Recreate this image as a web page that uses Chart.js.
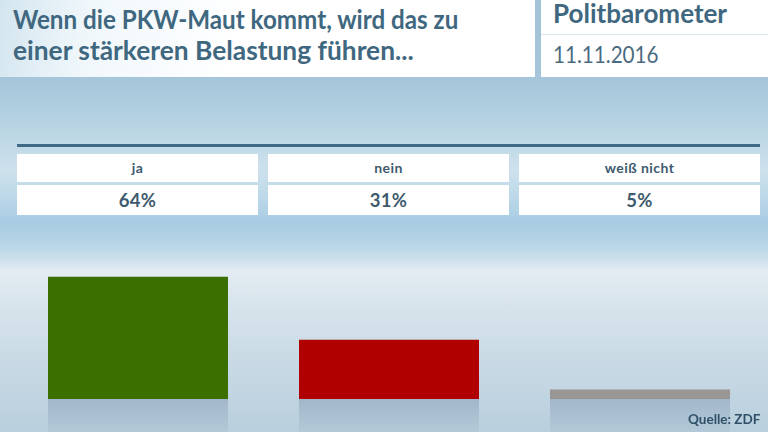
<!DOCTYPE html>
<html><head><meta charset="utf-8">
<style>
html,body{margin:0;padding:0;width:768px;height:432px;overflow:hidden}
#stage{position:relative;width:768px;height:432px;overflow:hidden;font-family:Lato,sans-serif;
background:linear-gradient(180deg,#a2c3d6 0px,#a5c6da 78px,#b0cfe0 110px,#bfd8e6 140px,#cde1ec 170px,#bcd8e9 198px,#a8cce3 222px,#b8d5e6 245px,#d2e3ed 262px,#e3ecf2 272px,#d9e5ed 300px,#c9dae5 360px,#b9cfdd 432px)}
.box{position:absolute;background:#fff}
.t{position:absolute;white-space:nowrap;color:#3f6880;transform-origin:left top}
.c{position:absolute;text-align:center;color:#3e5a6e;font-weight:700;background:#fff}
.c span{display:inline-block;transform-origin:center}
#c{position:absolute;left:0;top:0}
</style></head><body>
<div id="stage">
<div class="box" style="left:0;top:0;width:535px;height:77px;background:linear-gradient(100deg,#d3e5ef 0,#f0f7fb 90px,#fff 240px)"></div>
<div class="box" style="left:541px;top:0;width:227px;height:77px"></div>
<div class="box" style="left:541px;top:34px;width:227px;height:1px;background:#dbe8f0"></div>
<div class="t" id="t1" style="left:13px;top:3px;font-size:27px;font-weight:700;line-height:31px;transform:scaleX(.896)"></div>
<div class="t" id="t2" style="left:13px;top:34px;font-size:27px;font-weight:700;line-height:31px;transform:scaleX(.975)"></div>
<div class="t" id="t3" style="left:553px;top:-2px;font-size:26px;font-weight:700;line-height:30px"></div>
<div class="t" id="t4" style="left:553px;top:39px;font-size:24px;line-height:30px;color:#4a6a80;transform:scaleX(.86)"></div>
<div class="box" style="left:17px;top:144px;width:743px;height:3px;background:#3f6a85"></div>
<div id="cells"></div>
<canvas id="c" width="768" height="432" style="width:768px;height:432px"></canvas>
<div class="t" id="src" style="left:688px;top:411px;font-size:13.5px;font-weight:700;line-height:17px;color:#2f5068"></div>
</div>
<script src="https://cdn.jsdelivr.net/npm/chart.js@4/dist/chart.umd.min.js"></script>
<script>
const titleLines=["Wenn die PKW-Maut kommt, wird das zu","einer stärkeren Belastung führen..."];
const brand="Politbarometer";
const dateLabel="11.11.2016";
const source="Quelle: ZDF";
const categories=["ja","nein","weiß nicht"];
const values=[64,31,5];
const colors=["#3b7000","#b00000","#999694"];

t1.textContent=titleLines[0];t2.textContent=titleLines[1];t3.textContent=brand;t4.textContent=dateLabel;src.textContent=source;
const cellLeft=[17,268,519];
categories.forEach((n,i)=>{
  const a=document.createElement('div');a.className='c';a.textContent=n;
  a.style.cssText=`left:${cellLeft[i]}px;top:154px;width:241px;height:28px;line-height:27px;font-size:14px;letter-spacing:.45px`;
  const b=document.createElement('div');b.className='c';b.textContent=values[i]+'%';
  b.style.cssText=`left:${cellLeft[i]}px;top:185px;width:241px;height:30px;line-height:31px;font-size:18.5px;letter-spacing:.3px`;
  cells.append(a,b);
});
const reflection={id:'reflection',beforeDatasetsDraw(ch){
  const x=ch.ctx,base=ch.scales.y.getPixelForValue(0);
  ch.getDatasetMeta(0).data.forEach(el=>{
    const g=x.createLinearGradient(0,base,0,432);
    g.addColorStop(0,'rgba(130,155,180,0.5)');g.addColorStop(1,'rgba(130,155,180,0.12)');
    x.fillStyle=g;x.fillRect(el.x-el.width/2,base,el.width,432-base);
  });
}};
new Chart(document.getElementById('c'),{type:'bar',
 data:{labels:categories,datasets:[{data:values,backgroundColor:colors,categoryPercentage:1,barPercentage:180/251}]},
 plugins:[reflection],
 options:{responsive:false,animation:false,events:[],
  layout:{padding:{left:12.5,right:2.5,top:208,bottom:33}},
  plugins:{legend:{display:false},tooltip:{enabled:false}},
  scales:{x:{display:false},y:{display:false,min:0,max:100}}}});
</script>
</body></html>
